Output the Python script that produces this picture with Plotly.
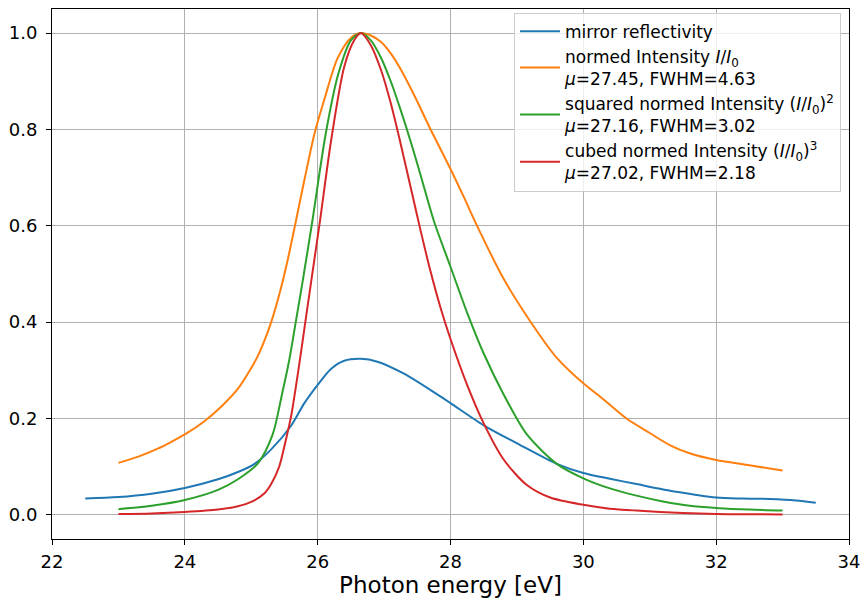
import plotly.graph_objects as go

# ---- data ----
mirror_x = [22.5, 23.0, 23.5, 24.0, 24.5, 24.8, 25.05, 25.3, 25.6, 25.8, 26.0, 26.2, 26.4, 26.65,
            26.9, 27.3, 27.8, 28.0, 28.5, 29.05, 29.6, 30.0, 30.4, 30.8, 31.4, 32.0, 32.4, 32.8,
            33.2, 33.5]
mirror_y = [0.034, 0.037, 0.044, 0.056, 0.074, 0.089, 0.106, 0.136, 0.185, 0.232, 0.270, 0.303,
            0.320, 0.324, 0.318, 0.293, 0.250, 0.232, 0.186, 0.145, 0.106, 0.087, 0.075, 0.064,
            0.048, 0.036, 0.034, 0.033, 0.030, 0.025]

norm_x = [23.0, 23.3, 23.6, 23.8, 24.0, 24.3, 24.55, 24.8, 25.0, 25.1, 25.2, 25.3, 25.45, 25.55,
          25.65, 25.8, 25.95, 26.1, 26.3, 26.5, 26.65, 26.8, 26.95, 27.1, 27.25, 27.45, 27.7,
          28.0, 28.2, 28.4, 28.8, 29.2, 29.6, 30.0, 30.3, 30.65, 31.0, 31.3, 31.6, 32.0, 32.5,
          33.0]
norm_y = [0.108, 0.121, 0.138, 0.152, 0.167, 0.195, 0.225, 0.262, 0.305, 0.330, 0.362, 0.400,
          0.472, 0.530, 0.595, 0.695, 0.790, 0.862, 0.948, 0.990, 1.000, 0.995, 0.982, 0.958,
          0.925, 0.872, 0.800, 0.718, 0.660, 0.600, 0.490, 0.402, 0.326, 0.273, 0.240, 0.200,
          0.170, 0.145, 0.128, 0.114, 0.103, 0.092]

sq_x = [23.0, 23.5, 24.0, 24.5, 24.8, 25.1, 25.32, 25.47, 25.57, 25.67, 25.78, 25.92, 26.12,
        26.31, 26.5, 26.65, 26.8, 26.95, 27.1, 27.25, 27.4, 27.55, 27.75, 28.0, 28.25, 28.5,
        28.8, 29.15, 29.6, 30.0, 30.4, 30.8, 31.2, 31.6, 32.0, 32.5, 33.0]
sq_y = [0.012, 0.019, 0.031, 0.052, 0.074, 0.107, 0.166, 0.255, 0.320, 0.400, 0.490, 0.610,
        0.790, 0.915, 0.985, 1.000, 0.985, 0.950, 0.900, 0.840, 0.775, 0.705, 0.610, 0.515,
        0.420, 0.335, 0.250, 0.167, 0.106, 0.076, 0.055, 0.040, 0.028, 0.019, 0.0145, 0.011,
        0.009]

cube_x = [23.0, 23.5, 24.0, 24.5, 24.8, 25.0, 25.2, 25.3, 25.42, 25.52, 25.6, 25.72, 25.84,
          25.94, 26.04, 26.2, 26.4, 26.55, 26.65, 26.8, 26.95, 27.1, 27.25, 27.4, 27.55, 27.7,
          27.85, 28.0, 28.25, 28.5, 28.8, 29.15, 29.5, 30.0, 30.4, 30.8, 31.5, 32.0, 33.0]
cube_y = [0.002, 0.003, 0.006, 0.011, 0.018, 0.027, 0.045, 0.064, 0.100, 0.155, 0.205, 0.310,
          0.425, 0.520, 0.615, 0.775, 0.930, 0.985, 1.000, 0.975, 0.925, 0.855, 0.770, 0.680,
          0.590, 0.505, 0.430, 0.365, 0.270, 0.190, 0.115, 0.062, 0.036, 0.021, 0.013, 0.009,
          0.004, 0.002, 0.001]

names = [
    "mirror reflectivity",
    "normed Intensity <i>I</i>/<i>I</i><sub>0</sub><br><i>μ</i>=27.45, FWHM=4.63",
    "squared normed Intensity (<i>I</i>/<i>I</i><sub>0</sub>)<sup>2</sup><br><i>μ</i>=27.16, FWHM=3.02",
    "cubed normed Intensity (<i>I</i>/<i>I</i><sub>0</sub>)<sup>3</sup><br><i>μ</i>=27.02, FWHM=2.18",
]
colors = ["#1f77b4", "#ff7f0e", "#2ca02c", "#d62728"]
xs = [mirror_x, norm_x, sq_x, cube_x]
ys = [mirror_y, norm_y, sq_y, cube_y]

fig = go.Figure()
for x, y, n, c in zip(xs, ys, names, colors):
    fig.add_trace(go.Scatter(x=x, y=y, mode="lines", name=n,
                             line=dict(color=c, width=2, shape="spline", smoothing=0.8)))

axis_common = dict(
    showline=True, linecolor="black", linewidth=1, mirror=True,
    ticks="outside", ticklen=5, tickwidth=1, tickcolor="black",
    showgrid=True, gridcolor="#b0b0b0", gridwidth=1, zeroline=False,
    tickfont=dict(size=18, color="black"),
)

fig.update_layout(
    width=868, height=600,
    margin=dict(l=52, r=15, t=8, b=59),
    paper_bgcolor="white", plot_bgcolor="white",
    font=dict(family="DejaVu Sans", color="black"),
    xaxis=dict(range=[22, 34], tick0=22, dtick=2, ticklabelstandoff=1,
               title=dict(text="Photon energy [eV]", font=dict(size=23), standoff=4),
               **axis_common),
    yaxis=dict(range=[-0.05, 1.05], tick0=0, dtick=0.2, tickformat=".1f",
               ticklabelstandoff=5, **axis_common),
    legend=dict(x=0.99, y=0.993, xanchor="right", yanchor="top",
                bgcolor="rgba(255,255,255,0.8)", bordercolor="#cccccc", borderwidth=1,
                font=dict(size=17), tracegroupgap=0, itemwidth=40),
    showlegend=True,
)

fig.write_html("out.html")
